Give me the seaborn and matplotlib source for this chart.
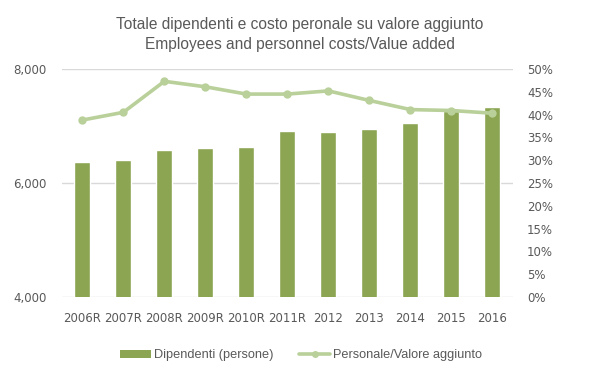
import matplotlib
matplotlib.use('Agg')
import matplotlib.pyplot as plt
import matplotlib.ticker as mticker
from matplotlib.lines import Line2D
from matplotlib.patches import Patch
import seaborn as sns
import pandas as pd

# dati
anni = ['2006R', '2007R', '2008R', '2009R', '2010R', '2011R',
        '2012', '2013', '2014', '2015', '2016']
dipendenti = [6368, 6404, 6579, 6614, 6632, 6912, 6895, 6947, 7053, 7260, 7333]
personale_va = [38.8, 40.5, 47.3, 46.1, 44.5, 44.5, 45.2, 43.1, 41.1, 40.9, 40.3]

df = pd.DataFrame({'anno': anni, 'dipendenti': dipendenti,
                   'quota': [v / 100 for v in personale_va]})

sns.set_style('white')
plt.rcParams['font.family'] = ['DejaVu Sans']

col_bar = '#8BA552'
col_line = '#B9D09A'
col_text = '#595959'
col_grid = '#D9D9D9'

fig = plt.figure(figsize=(6, 3.76), dpi=100)
ax1 = fig.add_axes([0.103, 0.21, 0.752, 0.6065])
ax2 = ax1.twinx()

# barre - dipendenti
sns.barplot(data=df, x='anno', y='dipendenti', color=col_bar,
            width=0.39, saturation=1, ax=ax1, zorder=2)
ax1.set_ylim(4000, 8000)
ax1.set_yticks([4000, 6000, 8000])
ax1.yaxis.set_major_formatter(mticker.StrMethodFormatter('{x:,.0f}'))
ax1.set_xlim(-0.5, len(anni) - 0.5)
ax1.grid(axis='y', color=col_grid, linewidth=1, zorder=0)
ax1.set_axisbelow(True)
ax1.set_xlabel('')
ax1.set_ylabel('')

# linea - personale / valore aggiunto
sns.lineplot(data=df, x='anno', y='quota', color=col_line, linewidth=2.6,
             marker='o', markersize=6, markeredgewidth=0, sort=False, ax=ax2)
ax2.set_ylim(0, 0.5)
ax2.set_yticks([i * 0.05 for i in range(11)])
ax2.yaxis.set_major_formatter(mticker.PercentFormatter(1.0, decimals=0))
ax2.set_ylabel('')

for ax in (ax1, ax2):
    for s in ax.spines.values():
        s.set_visible(False)
    ax.tick_params(length=0, colors=col_text)
ax1.tick_params(axis='y', labelsize=8.5, pad=11)
ax1.tick_params(axis='x', labelsize=8.5, pad=11)
ax2.tick_params(axis='y', labelsize=8.5, pad=10)

fig.suptitle('Totale dipendenti e costo peronale su valore aggiunto\n'
             'Employees and personnel costs/Value added',
             y=0.955, fontsize=11.2, color=col_text,
             family=['Liberation Sans', 'DejaVu Sans'], linespacing=1.45)

handles = [Patch(facecolor=col_bar, edgecolor='none'),
           Line2D([0], [0], color=col_line, linewidth=2.6, marker='o',
                  markersize=5, markeredgewidth=0)]
fig.legend(handles, ['Dipendenti (persone)', 'Personale/Valore aggiunto'],
           loc='center', bbox_to_anchor=(0.502, 0.055), ncol=2, frameon=False,
           handlelength=2.4, handleheight=0.55, handletextpad=0.25,
           columnspacing=2.0,
           prop={'family': ['Liberation Sans', 'DejaVu Sans'], 'size': 9.2},
           labelcolor=col_text)

fig.savefig('out.png', dpi=100)
